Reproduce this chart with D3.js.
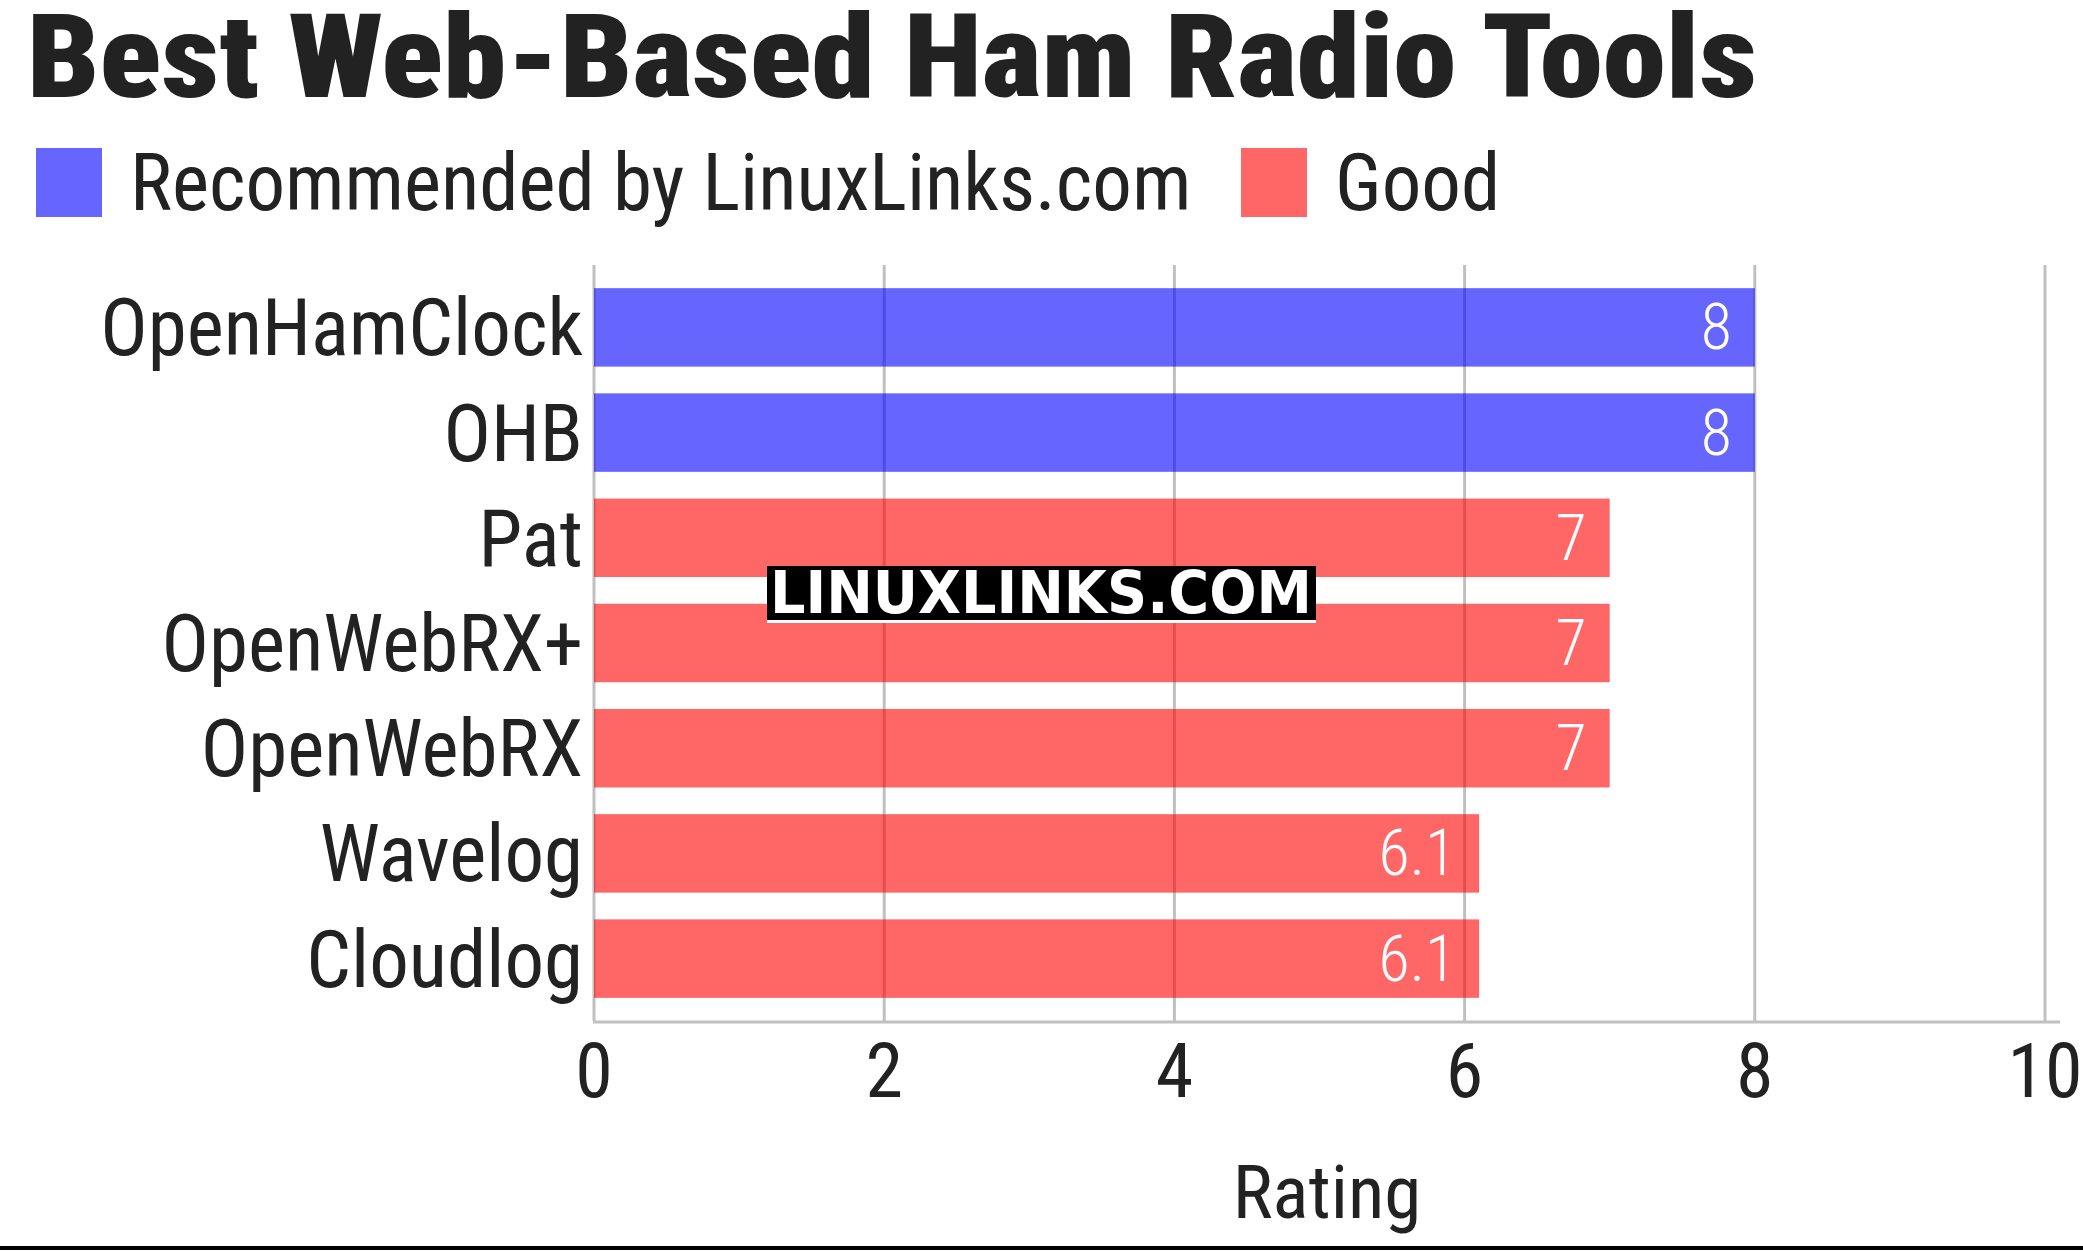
<!DOCTYPE html>
<html>
<head>
<meta charset="utf-8">
<script src="https://cdn.jsdelivr.net/npm/d3@7"></script>
<style>
  body { margin: 0; background: #fff; }
  svg { display: block; font-family: "Roboto Condensed", Roboto, sans-serif; font-stretch: 75%; }
</style>
</head>
<body>
<svg></svg>
<script>
const categories = ["OpenHamClock", "OHB", "Pat", "OpenWebRX+", "OpenWebRX", "Wavelog", "Cloudlog"];
const ratings = [8, 8, 7, 7, 7, 6.1, 6.1];
const groups = ["Recommended", "Recommended", "Good", "Good", "Good", "Good", "Good"];
const legendLabels = ["Recommended by LinuxLinks.com", "Good"];
const xTicks = [0, 2, 4, 6, 8, 10];

const width = 2083, height = 1251;
const margin = { top: 265, right: 38, bottom: 230, left: 594 };
const textColor = "#222";

const svg = d3.select("svg")
    .attr("width", width)
    .attr("height", height);

const x = d3.scaleLinear()
    .domain([0, 10])
    .range([margin.left, width - margin.right]);

const y = d3.scaleBand()
    .domain(categories)
    .range([margin.top, height - margin.bottom])
    .paddingInner(0.254)
    .paddingOuter(0.22);

const color = d3.scaleOrdinal()
    .domain(["Recommended", "Good"])
    .range(["rgb(0,0,255)", "rgb(255,0,0)"]);

// title
svg.append("text")
    .attr("x", 27)
    .attr("y", 97)
    .attr("font-size", 116)
    .attr("font-weight", 900)
    .attr("textLength", 1730)
    .attr("lengthAdjust", "spacingAndGlyphs")
    .attr("fill", textColor)
    .text("Best Web-Based Ham Radio Tools");

// legend
const legend = svg.append("g");
const legendX = [36, 1241];
legendLabels.forEach((label, i) => {
  legend.append("rect")
      .attr("x", legendX[i]).attr("y", 148)
      .attr("width", 66).attr("height", 69)
      .attr("fill", color.range()[i])
      .attr("fill-opacity", 0.6);
  legend.append("text")
      .attr("x", legendX[i] + 94).attr("y", 210)
      .attr("font-size", 79)
      .attr("fill", textColor)
      .text(label);
});

// grid
svg.append("g")
    .selectAll("line")
    .data(xTicks)
    .join("line")
    .attr("x1", d => x(d)).attr("x2", d => x(d))
    .attr("y1", margin.top).attr("y2", height - margin.bottom)
    .attr("stroke", "#c0c0c0")
    .attr("stroke-width", 3);

svg.append("line")
    .attr("x1", x(0) - 1).attr("x2", x(10) + 15)
    .attr("y1", height - margin.bottom + 1).attr("y2", height - margin.bottom + 1)
    .attr("stroke", "#c0c0c0")
    .attr("stroke-width", 3);

// bars
svg.append("g")
    .selectAll("rect")
    .data(categories)
    .join("rect")
    .attr("x", x(0))
    .attr("y", d => y(d))
    .attr("width", (d, i) => x(ratings[i]) - x(0))
    .attr("height", y.bandwidth())
    .attr("fill", (d, i) => color(groups[i]))
    .attr("fill-opacity", 0.6);

// value labels
svg.append("g")
    .selectAll("text")
    .data(categories)
    .join("text")
    .attr("x", (d, i) => x(ratings[i]) - 23)
    .attr("y", d => y(d) + y.bandwidth() / 2 + 22)
    .attr("text-anchor", "end")
    .attr("font-size", 64)
    .attr("font-weight", 300)
    .attr("fill", "#fff")
    .text((d, i) => ratings[i]);

// category labels
svg.append("g")
    .selectAll("text")
    .data(categories)
    .join("text")
    .attr("x", x(0) - 11)
    .attr("y", d => y(d) + y.bandwidth() / 2 + 28)
    .attr("text-anchor", "end")
    .attr("font-size", 79)
    .attr("fill", textColor)
    .text(d => d);

// x tick labels
svg.append("g")
    .selectAll("text")
    .data(xTicks)
    .join("text")
    .attr("x", d => x(d))
    .attr("y", 1097)
    .attr("text-anchor", "middle")
    .attr("font-size", 76)
    .attr("fill", textColor)
    .text(d => d);

svg.append("text")
    .attr("x", 1327)
    .attr("y", 1218)
    .attr("text-anchor", "middle")
    .attr("font-size", 75)
    .attr("fill", textColor)
    .text("Rating");

// watermark
const wm = svg.append("g");
wm.append("rect").attr("x", 767).attr("y", 566).attr("width", 549).attr("height", 54).attr("fill", "#000");
wm.append("rect").attr("x", 767).attr("y", 620).attr("width", 549).attr("height", 3).attr("fill", "#fff");
wm.append("text")
    .attr("x", 1041).attr("y", 613)
    .attr("text-anchor", "middle")
    .attr("font-family", "'DejaVu Sans', sans-serif")
    .style("font-stretch", "normal")
    .attr("font-weight", 700)
    .attr("font-size", 59)
    .attr("textLength", 542)
    .attr("lengthAdjust", "spacingAndGlyphs")
    .attr("fill", "#fff")
    .text("LINUXLINKS.COM");

// bottom rule
svg.append("rect")
    .attr("x", 0).attr("y", 1246)
    .attr("width", width).attr("height", 4)
    .attr("fill", "#000");
</script>
</body>
</html>
